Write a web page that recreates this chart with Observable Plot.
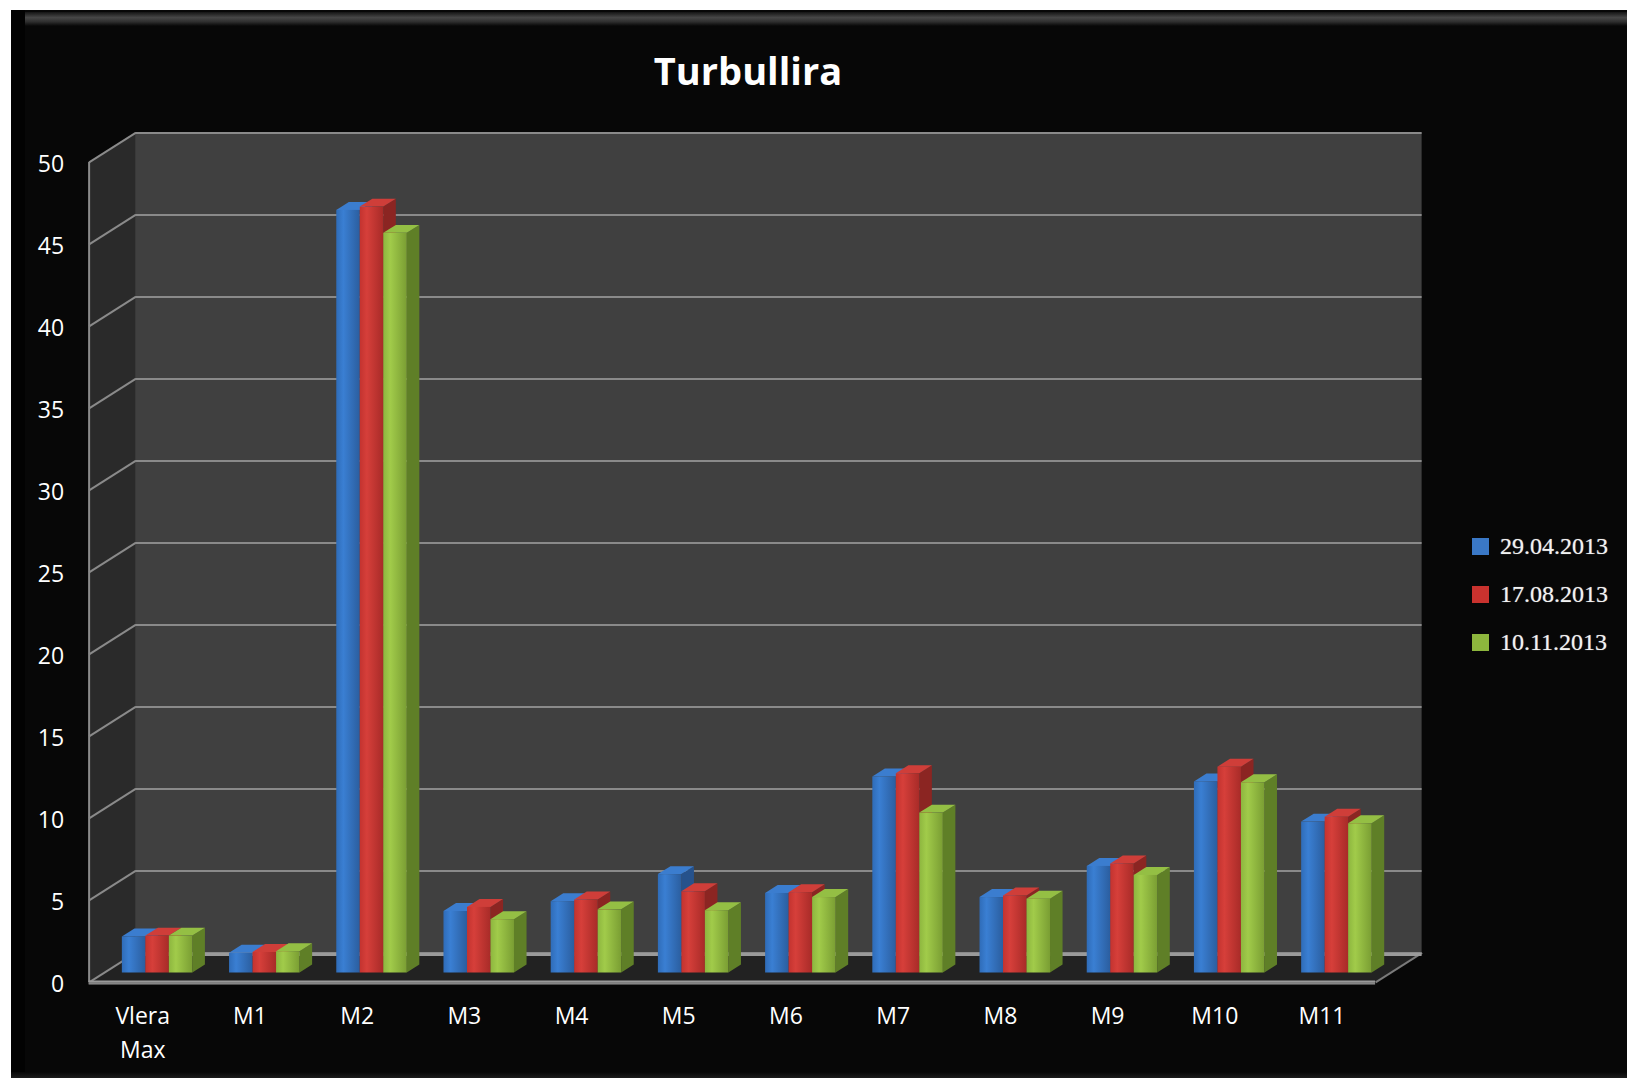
<!DOCTYPE html>
<html>
<head>
<meta charset="utf-8">
<script src="https://cdn.jsdelivr.net/npm/d3@7"></script>
<script src="https://cdn.jsdelivr.net/npm/@observablehq/plot@0.6"></script>
<style>
  html, body { margin: 0; padding: 0; background: #ffffff; overflow: hidden; }
  #frame { position: absolute; left: 11px; top: 10px; right: 0; bottom: 0; background: #070707; }
  #bevel-top { position: absolute; left: 14px; right: 0; top: 2px; height: 14px;
    background: linear-gradient(#141414, #474747 40%, #2e2e2e 70%, #070707); }
  #bevel-left { position: absolute; left: 0; top: 0; bottom: 0; width: 14px; background: #020202; }
  #bevel-bottom { position: absolute; left: 0; right: 0; bottom: 0; height: 6px;
    background: linear-gradient(#070707, #1c1c1c); }
  #title { position: absolute; left: 548px; width: 400px; top: 44px; text-align: center;
    font-family: "Open Sans", sans-serif; font-weight: 700; font-size: 38px; line-height: normal; color: #ffffff; }
  #chart { position: absolute; left: 11px; top: 110px; }
  #legend { position: absolute; left: 1472px; top: 522px; }
  #legend .lg-swatches-columns .lg-swatch { height: 48px !important; padding-bottom: 0 !important; margin: 0 !important; }
  #legend .lg-swatch svg { margin-right: 11px !important; }
  #legend, #legend * { font-family: "Liberation Serif", serif !important; font-size: 24px !important; color: #f2f2f2 !important;
    text-shadow: 0 0 1px rgba(255, 255, 255, 0.6); }
</style>
</head>
<body>
<svg width="0" height="0" style="position:absolute">
  <defs>
    <linearGradient id="front0" x1="0" x2="1" y1="0" y2="0">
      <stop offset="0" stop-color="#2f6cb8"/><stop offset="0.3" stop-color="#3a7fd3"/><stop offset="1" stop-color="#2b5e9f"/>
    </linearGradient>
    <linearGradient id="front1" x1="0" x2="1" y1="0" y2="0">
      <stop offset="0" stop-color="#c3332f"/><stop offset="0.3" stop-color="#d63f3a"/><stop offset="1" stop-color="#a82b28"/>
    </linearGradient>
    <linearGradient id="front2" x1="0" x2="1" y1="0" y2="0">
      <stop offset="0" stop-color="#8db63f"/><stop offset="0.3" stop-color="#a1cb4a"/><stop offset="1" stop-color="#7a9e33"/>
    </linearGradient>
  </defs>
</svg>
<div id="frame">
  <div id="bevel-left"></div>
  <div id="bevel-top"></div>
  <div id="bevel-bottom"></div>
</div>
<div id="title">Turbullira</div>
<div id="chart"></div>
<div id="legend"></div>
<script>
// Turbidity readings per sampling point, three sampling dates
const categories = ["Vlera\nMax", "M1", "M2", "M3", "M4", "M5", "M6", "M7", "M8", "M9", "M10", "M11"];
const series = ["29.04.2013", "17.08.2013", "10.11.2013"];
const apr2013 = [2.2, 1.2, 46.5, 3.75, 4.35, 6.0, 4.85, 11.95, 4.6, 6.5, 11.65, 9.2];
const aug2013 = [2.25, 1.25, 46.7, 4.0, 4.45, 4.95, 4.9, 12.15, 4.7, 6.65, 12.55, 9.5];
const nov2013 = [2.25, 1.3, 45.1, 3.25, 3.85, 3.8, 4.6, 9.75, 4.5, 5.95, 11.6, 9.1];
const yTicks = [0, 5, 10, 15, 20, 25, 30, 35, 40, 45, 50];

const seriesValues = [apr2013, aug2013, nov2013];
const swatchColors = ["#3a78c6", "#c9322e", "#8db63d"];
const sideColors = ["#26528c", "#8b2522", "#5f7f27"];
const topColors = ["#3b7dcf", "#cf3e39", "#94bf44"];

// Plot geometry: the bar plane, plus an oblique depth axis for walls and bar sides
const W = 1616, H = 968;
const xRange = [92.5, 1379];
const yRange = [862.5, 42.5];
const yMax = 50;
const bandPx = (xRange[1] - xRange[0]) / categories.length;
const unitPx = (yRange[0] - yRange[1]) / yMax;
const depth = {x: 46.5 / bandPx, y: 29.5 / unitPx};   // full floor depth, in data units
const front = -0.32, back = 0.68;                      // planes relative to the bars
const barW = 23.5 / bandPx;
const barDepth = 0.27;

const rows = categories.flatMap((c, i) => series.map((s, j) => ({i, j, category: c, series: s, value: seriesValues[j][i]})));
const barX1 = r => r.i + 0.5 - 1.5 * barW + r.j * barW;

const n = categories.length;
const fx = t => t * depth.x, fy = t => t * depth.y;

const gridColor = "#8a8a8a";

const marks = [
  // floor
  Plot.areaX([{y: fy(front), x1: fx(front), x2: n + fx(front)}, {y: fy(back), x1: fx(back), x2: n + fx(back)}],
    {y: "y", x1: "x1", x2: "x2", fill: "#222222"}),
  // side wall
  Plot.areaY([{x: fx(front), y1: fy(front), y2: yMax + fy(front)}, {x: fx(back), y1: fy(back), y2: yMax + fy(back)}],
    {x: "x", y1: "y1", y2: "y2", fill: "#2a2a2a"}),
  // back wall
  Plot.rect([0], {x1: () => fx(back), x2: () => n + fx(back), y1: () => fy(back), y2: () => yMax + fy(back), fill: "#404040"}),
  // gridlines on the back wall and the side wall
  Plot.ruleY(yTicks, {y: v => v + fy(back), x1: () => fx(back), x2: () => n + fx(back), stroke: gridColor, strokeWidth: 2}),
  Plot.link(yTicks, {x1: () => fx(front), y1: v => v + fy(front), x2: () => fx(back), y2: v => v + fy(back), stroke: gridColor, strokeWidth: 2}),
  Plot.ruleX([0], {x: () => fx(front), y1: () => fy(front), y2: () => yMax + fy(front), stroke: gridColor, strokeWidth: 2}),
  // floor edges
  Plot.ruleY([0], {y: () => fy(front), x1: () => fx(front), x2: () => n + fx(front), stroke: "#9a9a9a", strokeWidth: 4}),
  Plot.ruleY([0], {y: () => fy(front), x1: () => fx(front), x2: () => n + fx(front), stroke: "#6e6e6e", strokeWidth: 1, dy: 0.5}),
  Plot.link([0], {x1: () => n + fx(front), y1: () => fy(front), x2: () => n + fx(back), y2: () => fy(back), stroke: "#7a7a7a", strokeWidth: 2}),
  Plot.ruleY([0], {y: () => fy(back), x1: () => fx(back), x2: () => n + fx(back), stroke: "#9a9a9a", strokeWidth: 3, dy: 1.5})
];

// bars: side face, top face, then front face, series by series
series.forEach((s, j) => {
  const data = rows.filter(r => r.j === j);
  const bdx = barDepth * depth.x, bdy = barDepth * depth.y;
  marks.push(
    Plot.areaY(data.flatMap(r => [
      {id: r.i, x: barX1(r) + barW, y1: 0, y2: r.value},
      {id: r.i, x: barX1(r) + barW + bdx, y1: bdy, y2: r.value + bdy}
    ]), {x: "x", y1: "y1", y2: "y2", z: "id", fill: sideColors[j]}),
    Plot.areaX(data.flatMap(r => [
      {id: r.i, y: r.value, x1: barX1(r), x2: barX1(r) + barW},
      {id: r.i, y: r.value + bdy, x1: barX1(r) + bdx, x2: barX1(r) + barW + bdx}
    ]), {y: "y", x1: "x1", x2: "x2", z: "id", fill: topColors[j]}),
    Plot.rect(data, {x1: barX1, x2: r => barX1(r) + barW, y1: 0, y2: "value", fill: `url(#front${j})`})
  );
});

// axis labels, on the front edge of the floor and side wall
marks.push(
  Plot.text(yTicks, {x: () => fx(front), y: v => v + fy(front), text: v => String(v), textAnchor: "end", dx: -25, dy: 2, fill: "#ffffff", fontSize: 23}),
  Plot.text(categories, {x: (c, i) => i + 0.5 + fx(front), y: () => fy(front), text: c => c, lineAnchor: "top", dy: 17, lineHeight: 1.48, fill: "#ffffff", fontSize: 23})
);

const chart = Plot.plot({
  width: W,
  height: H,
  margin: 0,
  x: {type: "linear", domain: [0, n], range: xRange, axis: null},
  y: {type: "linear", domain: [0, yMax], range: yRange, axis: null},
  style: {background: "transparent", color: "#ffffff", fontFamily: "'Open Sans', sans-serif", fontSize: "23px", overflow: "visible"},
  marks
});
document.getElementById("chart").appendChild(chart);

const legend = Plot.legend({
  color: {type: "ordinal", domain: series, range: swatchColors},
  legend: "swatches",
  columns: 1,
  swatchSize: 17,
  className: "lg"
});
document.getElementById("legend").appendChild(legend);
</script>
</body>
</html>
